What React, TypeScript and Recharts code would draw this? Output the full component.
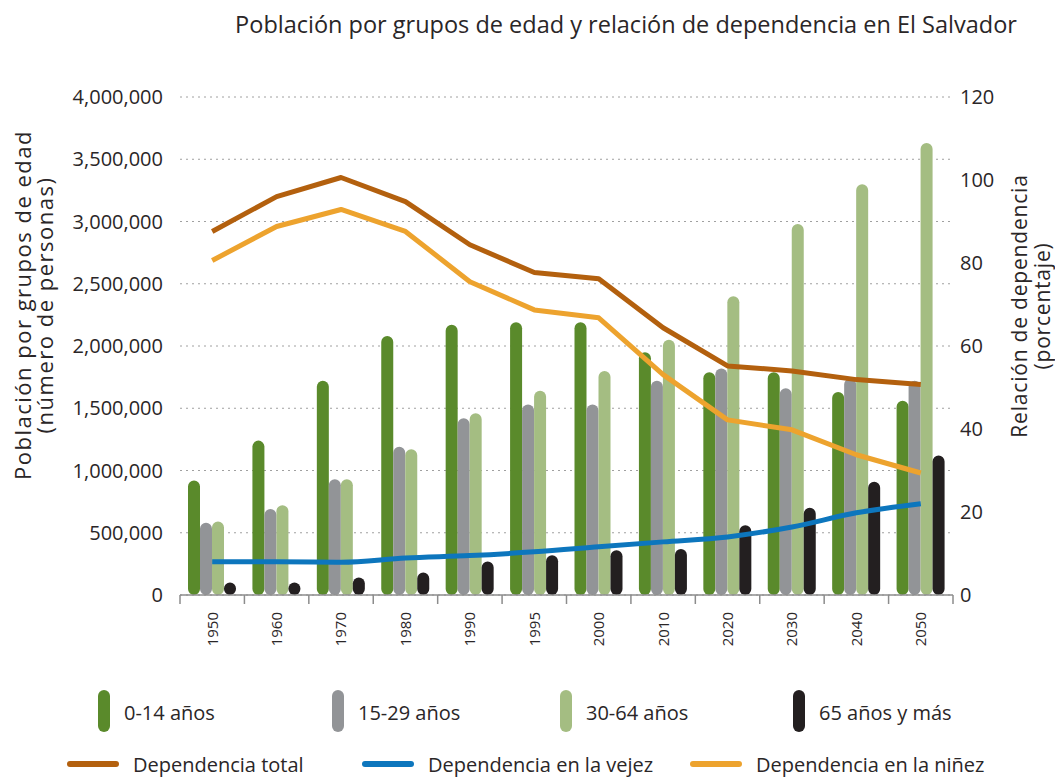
import React from 'react'
import {
  ComposedChart,
  Bar,
  Line,
  XAxis,
  YAxis,
  CartesianGrid,
  Legend,
} from 'recharts'

// Datos
const years = ['1950', '1960', '1970', '1980', '1990', '1995', '2000', '2010', '2020', '2030', '2040', '2050']

const edad0a14 = [920000, 1240000, 1720000, 2080000, 2170000, 2190000, 2190000, 1950000, 1790000, 1790000, 1630000, 1560000]
const edad15a29 = [580000, 690000, 930000, 1190000, 1420000, 1530000, 1530000, 1720000, 1820000, 1660000, 1740000, 1720000]
const edad30a64 = [590000, 720000, 930000, 1170000, 1460000, 1640000, 1800000, 2050000, 2400000, 2980000, 3300000, 3630000]
const edad65mas = [100000, 100000, 140000, 180000, 270000, 320000, 360000, 370000, 560000, 700000, 910000, 1120000]

const depTotal = [87.6, 96, 100.6, 94.8, 84.4, 77.7, 76.2, 64.4, 55.2, 54.0, 51.9, 50.7]
const depVejez = [8.0, 8.0, 7.9, 8.9, 9.5, 10.4, 11.6, 12.8, 14.0, 16.4, 19.8, 22.0]
const depNinez = [80.6, 88.8, 92.9, 87.6, 75.5, 68.7, 66.8, 53.1, 42.2, 39.8, 33.8, 29.4]

const leftTicks = [0, 500000, 1000000, 1500000, 2000000, 2500000, 3000000, 3500000, 4000000]
const rightTicks = [0, 20, 40, 60, 80, 100, 120]

const barSeries = [
  { key: 'e0', name: '0-14 años', color: '#5a8a2b' },
  { key: 'e15', name: '15-29 años', color: '#929497' },
  { key: 'e30', name: '30-64 años', color: '#a4bd82' },
  { key: 'e65', name: '65 años y más', color: '#231f20' },
]
const lineSeries = [
  { key: 'total', name: 'Dependencia total', color: '#b3600e', type: 'linear' },
  { key: 'vejez', name: 'Dependencia en la vejez', color: '#0d76bd', type: 'monotone' },
  { key: 'ninez', name: 'Dependencia en la niñez', color: '#eda32e', type: 'linear' },
]

const data = years.map((y, i) => ({
  year: y,
  e0: edad0a14[i],
  e15: edad15a29[i],
  e30: edad30a64[i],
  e65: edad65mas[i],
  total: depTotal[i],
  vejez: depVejez[i],
  ninez: depNinez[i],
}))

const W = 1055
const H = 778
const FONT = '"Open Sans", "Noto Sans", sans-serif'
const TEXT = '#2a2627'
const MARGIN = { top: 97, right: 42, bottom: 123, left: 80 }
const LEFT_W = 100
const RIGHT_W = 60
const catW = (W - MARGIN.left - MARGIN.right - LEFT_W - RIGHT_W) / years.length

const XTick = (props: any) => {
  const { x, y, payload, index } = props
  const half = catW / 2
  const ty = y + 17
  return (
    <g>
      <line x1={x - half} x2={x - half} y1={y} y2={y + 9} stroke="#8c8c8c" strokeWidth={1.5} />
      {index === years.length - 1 && (
        <line x1={x + half} x2={x + half} y1={y} y2={y + 9} stroke="#8c8c8c" strokeWidth={1.5} />
      )}
      <text
        x={x}
        y={ty}
        dy="0.36em"
        transform={`rotate(-90 ${x} ${ty})`}
        textAnchor="end"
        fontFamily={FONT}
        fontSize={15}
        fill={TEXT}
      >
        {payload.value}
      </text>
    </g>
  )
}

const AxisTitle = ({ lines, px, py, gap, size, spacing }: any) => (
  <g>
    {lines.map((t: string, i: number) => {
      const cx = px + i * gap
      return (
        <text
          key={t}
          x={cx}
          y={py}
          transform={`rotate(-90 ${cx} ${py})`}
          textAnchor="middle"
          dominantBaseline="central"
          fontFamily={FONT}
          fontSize={size}
          letterSpacing={spacing}
          fill={TEXT}
        >
          {t}
        </text>
      )
    })}
  </g>
)

const LegendBox = () => {
  const barX = [98, 332, 560, 793]
  const lineX = [67, 362, 690]
  return (
    <svg width={W} height={98} style={{ display: 'block' }}>
      {barSeries.map((s, i) => (
        <g key={s.key}>
          <rect x={barX[i]} y={10} width={12} height={42} rx={6} fill={s.color} />
          <text x={barX[i] + 26} y={32} dominantBaseline="central" fontFamily={FONT} fontSize={20} fill={TEXT}>
            {s.name}
          </text>
        </g>
      ))}
      {lineSeries.map((s, i) => (
        <g key={s.key}>
          <line x1={lineX[i] + 3} x2={lineX[i] + 49} y1={84} y2={84} stroke={s.color} strokeWidth={6} strokeLinecap="round" />
          <text x={lineX[i] + 66} y={84} dominantBaseline="central" fontFamily={FONT} fontSize={20} fill={TEXT}>
            {s.name}
          </text>
        </g>
      ))}
    </svg>
  )
}

export default function App() {
  return (
    <div style={{ position: 'absolute', left: 0, top: 0, width: W, height: H, background: '#fff' }}>
      <div
        style={{
          position: 'absolute',
          top: 8,
          left: 226,
          width: 800,
          textAlign: 'center',
          fontFamily: FONT,
          fontSize: 23.5,
          color: TEXT,
          whiteSpace: 'nowrap',
        }}
      >
        Población por grupos de edad y relación de dependencia en El Salvador
      </div>
      <ComposedChart width={W} height={H} data={data} margin={MARGIN} barGap={0}>
        <CartesianGrid yAxisId="left" vertical={false} stroke="#a0a0a0" strokeDasharray="2 4" />
        <XAxis
          dataKey="year"
          interval={0}
          tickLine={false}
          tickSize={0}
          tickMargin={0}
          height={60}
          axisLine={{ stroke: '#8c8c8c', strokeWidth: 1.5 }}
          tick={<XTick />}
        />
        <YAxis
          yAxisId="left"
          orientation="left"
          width={LEFT_W}
          domain={[0, 4000000]}
          ticks={leftTicks}
          axisLine={false}
          tickLine={false}
          tickSize={0}
          tickMargin={17}
          tick={{ fontFamily: FONT, fontSize: 20, fill: TEXT }}
          tickFormatter={(v: number) => v.toLocaleString('en-US')}
          label={
            <AxisTitle
              lines={['Población por grupos de edad', '(número de personas)']}
              px={22}
              py={305}
              gap={22}
              size={22}
              spacing={1.5}
            />
          }
        />
        <YAxis
          yAxisId="right"
          orientation="right"
          width={RIGHT_W}
          domain={[0, 120]}
          ticks={rightTicks}
          axisLine={false}
          tickLine={false}
          tickSize={0}
          tickMargin={7}
          tick={{ fontFamily: FONT, fontSize: 20, fill: TEXT }}
          label={
            <AxisTitle
              lines={['Relación de dependencia', '(porcentaje)']}
              px={1019}
              py={306}
              gap={23}
              size={21}
              spacing={0.8}
            />
          }
        />
        {barSeries.map((s) => (
          <Bar
            key={s.key}
            yAxisId="left"
            dataKey={s.key}
            name={s.name}
            fill={s.color}
            barSize={12}
            radius={6}
            isAnimationActive={false}
          />
        ))}
        {lineSeries.map((s) => (
          <Line
            key={s.key}
            yAxisId="right"
            dataKey={s.key}
            name={s.name}
            type={s.type as any}
            stroke={s.color}
            strokeWidth={5}
            strokeLinejoin="round"
            dot={false}
            activeDot={false}
            isAnimationActive={false}
          />
        ))}
        <Legend
          layout="horizontal"
          verticalAlign="middle"
          align="center"
          content={() => <LegendBox />}
          wrapperStyle={{ left: 0, top: 680, width: W, height: 98 }}
        />
      </ComposedChart>
    </div>
  )
}
